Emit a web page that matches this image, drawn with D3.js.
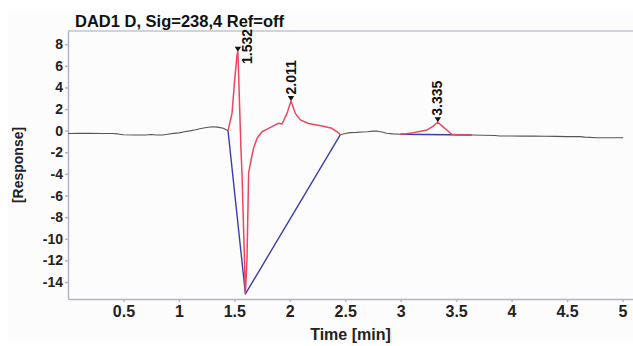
<!DOCTYPE html>
<html lang="en">
<head>
  <meta charset="utf-8">
  <title>DAD1 D</title>
  <script src="https://d3js.org/d3.v7.min.js"></script>
  <style>
    body { margin: 0; background: #fff; font-family: "Liberation Sans", Arial, sans-serif; }
    .axis path, .axis line { stroke: #b4b4c4; stroke-width: 1.5; }
    .axis text { fill: #222; font-weight: bold; }
    .trace { fill: none; stroke-linejoin: round; }
  </style>
</head>
<body>
<div id="chart"></div>
<script>
"use strict"

// chromatogram trace, split where the integrator colours it
var preTime  = [0, 0.1, 0.2, 0.3, 0.4, 0.45, 0.5, 0.6, 0.7, 0.75, 0.8, 0.85, 0.9, 0.95, 1.0, 1.05, 1.1, 1.15, 1.2, 1.25, 1.3, 1.35, 1.4, 1.443];
var preResp  = [-0.26, -0.25, -0.25, -0.26, -0.26, -0.3, -0.38, -0.4, -0.4, -0.36, -0.4, -0.4, -0.33, -0.25, -0.2, -0.1, -0.02, 0.08, 0.2, 0.3, 0.37, 0.33, 0.22, 0];

var peakATime = [1.443, 1.479, 1.503, 1.524, 1.532, 1.56, 1.569, 1.6, 1.614, 1.629, 1.655, 1.674, 1.705, 1.75, 1.809, 1.869, 1.899, 1.93, 1.975, 2.011, 2.05, 2.095, 2.169, 2.29, 2.38, 2.44, 2.455];
var peakAResp = [0, 1.6, 4.7, 7.0, 7.3, -1.8, -3.9, -15.1, -11.9, -3.9, -2.5, -1.6, -0.7, -0.1, 0.22, 0.53, 0.68, 0.62, 1.6, 2.75, 1.6, 1.0, 0.66, 0.43, 0.22, -0.2, -0.38];

var midTime = [2.455, 2.5, 2.545, 2.6, 2.65, 2.7, 2.75, 2.785, 2.83, 2.875, 2.93, 2.995];
var midResp = [-0.38, -0.26, -0.18, -0.16, -0.12, -0.1, -0.04, -0.03, -0.12, -0.24, -0.3, -0.33];

var peakBTime = [2.995, 3.05, 3.115, 3.17, 3.235, 3.29, 3.335, 3.375, 3.416, 3.46, 3.5, 3.536, 3.6, 3.641];
var peakBResp = [-0.33, -0.28, -0.18, -0.08, 0.06, 0.4, 0.78, 0.42, 0.06, -0.33, -0.38, -0.4, -0.4, -0.4];

var postTime = [3.641, 3.75, 3.85, 3.896, 4.0, 4.1, 4.196, 4.3, 4.4, 4.5, 4.617, 4.66, 4.77, 4.9, 5.007];
var postResp = [-0.4, -0.42, -0.44, -0.49, -0.49, -0.5, -0.5, -0.52, -0.53, -0.55, -0.55, -0.6, -0.65, -0.65, -0.66];

// integration baselines
var baseATime = [1.443, 1.6, 2.455];
var baseAResp = [0, -15.1, -0.38];
var baseBTime = [2.995, 3.641];
var baseBResp = [-0.33, -0.4];

// peak apex marks
var peakRT     = [1.532, 2.011, 3.335];
var peakApex   = [7.3, 2.75, 0.78];
var peakLabels = ["1.532", "2.011", "3.335"];

var xTicks = [0.5, 1, 1.5, 2, 2.5, 3, 3.5, 4, 4.5, 5];
var yTicks = [-14, -12, -10, -8, -6, -4, -2, 0, 2, 4, 6, 8];

var W = 633, H = 346;
var m = {left: 68, right: 633, top: 31, bottom: 299};

var svg = d3.select("#chart").append("svg")
    .attr("width", W).attr("height", H);

svg.append("rect")
    .attr("x", 8).attr("y", 10).attr("width", W - 8).attr("height", 332)
    .attr("fill", "#fcfcfc");

var x = d3.scaleLinear().domain([0, 5.095]).range([m.left, m.right]);
var y = d3.scaleLinear().domain([-15.57, 9.22]).range([m.bottom, m.top]);

// top frame line
svg.append("line")
    .attr("x1", m.left).attr("x2", m.right).attr("y1", m.top).attr("y2", m.top)
    .attr("stroke", "#c4c4d2").attr("stroke-width", 1.5);

svg.append("g")
    .attr("class", "axis")
    .attr("transform", "translate(0," + m.bottom + ")")
    .call(d3.axisBottom(x).tickValues(xTicks).tickSize(3).tickPadding(4).tickSizeOuter(0).tickFormat(function(d) { return d; }))
    .selectAll("text").style("font-size", "16px");

svg.append("g")
    .attr("class", "axis")
    .attr("transform", "translate(" + m.left + ",0)")
    .call(d3.axisLeft(y).tickValues(yTicks).tickSize(3).tickPadding(2).tickSizeOuter(0).tickFormat(function(d) { return d; }))
    .selectAll("text").style("font-size", "14px");

var line = d3.line()
    .x(function(d) { return x(d[0]); })
    .y(function(d) { return y(d[1]); });

function draw(ts, vs, colour, width) {
  svg.append("path")
      .attr("class", "trace")
      .attr("d", line(d3.zip(ts, vs)))
      .attr("stroke", colour)
      .attr("stroke-width", width);
}

draw(preTime, preResp, "#555", 1.1);
draw(midTime, midResp, "#555", 1.1);
draw(postTime, postResp, "#555", 1.1);
draw(baseATime, baseAResp, "#3c3cb0", 1.4);
draw(baseBTime, baseBResp, "#3c3cb0", 1.6);
draw(peakATime, peakAResp, "#ec4660", 1.5);
draw(peakBTime, peakBResp, "#ec4660", 1.5);

// apex triangles and retention time labels
peakRT.forEach(function(t, i) {
  var px = x(t), py = y(peakApex[i]);
  svg.append("path")
      .attr("d", "M" + (px - 3.2) + "," + (py - 5) + "L" + (px + 3.2) + "," + (py - 5) + "L" + px + "," + py + "Z")
      .attr("fill", "#111");
  var lab = svg.append("text")
      .text(peakLabels[i])
      .style("font-size", "14px").style("font-weight", "bold")
      .attr("fill", "#111");
  var len = lab.node().getComputedTextLength();
  var lx = px + 4.5, ly = py - 6.5;
  if (ly - len < m.top) { lx = px + 14; ly = m.top + len - 2; }
  lab.attr("transform", "translate(" + lx + "," + ly + ") rotate(-90)");
});

svg.append("text")
    .attr("x", 75).attr("y", 26.7)
    .style("font-size", "16.5px").style("font-weight", "bold")
    .attr("fill", "#111")
    .text("DAD1 D, Sig=238,4 Ref=off");

svg.append("text")
    .attr("x", (m.left + m.right) / 2).attr("y", 339.5)
    .attr("text-anchor", "middle")
    .style("font-size", "16px").style("font-weight", "bold")
    .attr("fill", "#222")
    .text("Time [min]");

svg.append("text")
    .attr("transform", "translate(22.7," + (m.top + m.bottom) / 2 + ") rotate(-90)")
    .attr("text-anchor", "middle")
    .style("font-size", "14px").style("font-weight", "bold")
    .attr("fill", "#222")
    .text("[Response]");
</script>
</body>
</html>
